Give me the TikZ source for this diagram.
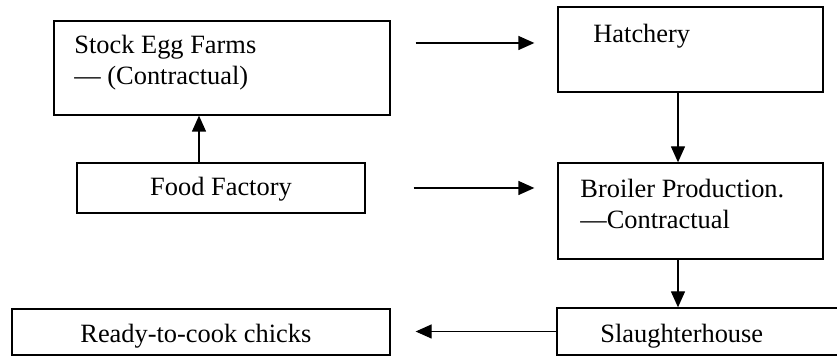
\documentclass[tikz,border=0pt]{standalone}
\usepackage{fontspec}
\setmainfont{Liberation Serif}
\usetikzlibrary{arrows.meta, fit}

\tikzset{
  box/.style={draw, line width=0.65pt, inner sep=0pt},
  txt/.style={inner sep=0pt, align=left, font=\fontsize{13.2}{15.5}\selectfont},
  arr/.style={line width=0.65pt, -{Triangle[length=8pt, width=7pt]}}
}

\begin{document}
\begin{tikzpicture}[x=0.5pt, y=-0.5pt]
        \clip (0,0) rectangle (837,356);

        % Boxes
        \node[box, fit={(54,21) (390,115)}] (stock) {};
        \node[box, fit={(558,7) (823,92)}] (hatch) {};
        \node[box, fit={(77,163) (365,213)}] (food) {};
        \node[box, fit={(558,163) (823,259)}] (broiler) {};
        \node[box, fit={(557,308) (860,355)}] (slaughter) {};
        \node[box, fit={(12,309) (390,355)}] (ready) {};

        % Texts
        \node[txt, anchor=base west] (stocktxt) at (74,85) {Stock Egg Farms\\— (Contractual)};
        \node[txt, anchor=base west] (hatchtxt) at (593,43) {Hatchery};
        \node[txt, anchor=base] (foodtxt) at (221,196) {Food Factory};
        \node[txt, anchor=base west] (broilertxt) at (580,229) {Broiler Production.\\—Contractual};
        \node[txt, anchor=base west] (slaughtertxt) at (600,343) {Slaughterhouse};
        \node[txt, anchor=base west] (readytxt) at (80,343) {Ready-to-cook chicks};

        % Stock egg farms to hatchery
        \draw[arr, shorten <=12.5pt, shorten >=11.5pt] (stock.east |- hatchtxt.base) -- (hatch.west |- hatchtxt.base);

        % Food factory to stock egg farms
        \draw[arr] ([xshift=-11pt]food.north) -- ([xshift=-11pt]food.north |- stock.south);

        % Food factory to broiler production
        \draw[arr, shorten <=24pt, shorten >=11.5pt] (food.east) -- (food.east -| broiler.west);

        % Hatchery to broiler production
        \draw[arr] ([xshift=-6.25pt]hatch.south) -- ([xshift=-6.25pt]broiler.north);

        % Broiler production to slaughterhouse
        \draw[arr] ([xshift=-6.25pt]broiler.south) -- ([xshift=-6.25pt]broiler.south |- slaughter.north);

        % Slaughterhouse to ready-to-cook chicks
        \draw[arr, shorten >=12.5pt] (slaughter.west) -- (slaughter.west -| ready.east);
    \end{tikzpicture}
\end{document}
